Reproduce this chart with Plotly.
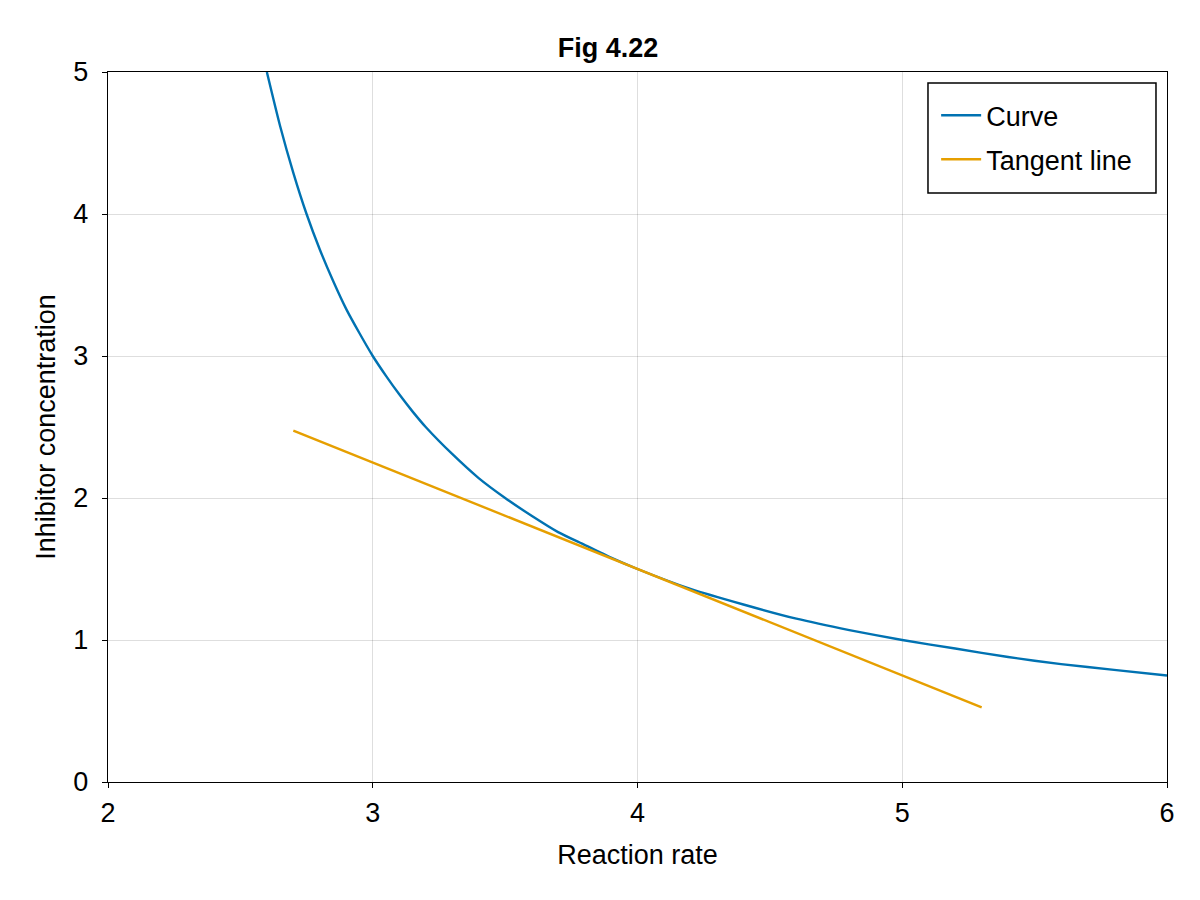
import plotly.graph_objects as go

# Curve values
curve_x = [2.6, 2.65, 2.7, 2.75, 2.8, 2.85, 2.9, 2.95, 3.0, 3.05, 3.1, 3.15, 3.2, 3.3, 3.4, 3.5,
           3.6, 3.7, 3.8, 3.9, 4.0, 4.2, 4.4, 4.6, 4.8, 5.0, 5.2, 5.4, 5.6, 5.8, 6.0]
curve_y = [5.0, 4.62, 4.29, 4.0, 3.75, 3.53, 3.33, 3.16, 3.0, 2.86, 2.73, 2.61, 2.5, 2.31, 2.14, 2.0,
           1.875, 1.76, 1.67, 1.58, 1.5, 1.36, 1.25, 1.15, 1.07, 1.0, 0.94, 0.88, 0.83, 0.79, 0.75]

# Tangent line endpoints
tangent_x = [2.7, 5.3]
tangent_y = [2.475, 0.525]

x_ticks = [2, 3, 4, 5, 6]
y_ticks = [0, 1, 2, 3, 4, 5]

FS = 27

fig = go.Figure()
fig.add_trace(go.Scatter(x=curve_x, y=curve_y, mode="lines", name="Curve", legendgroup="a",
                         line=dict(color="#0072B2", width=2.4, shape="spline", smoothing=0.6)))
fig.add_trace(go.Scatter(x=tangent_x, y=tangent_y, mode="lines", name="Tangent line", legendgroup="b",
                         line=dict(color="#E69F00", width=2.4)))

axis_common = dict(
    showline=True, linecolor="black", linewidth=1.4, mirror=True,
    ticks="outside", ticklen=5, tickwidth=1.4, tickcolor="black",
    showgrid=True, gridcolor="rgba(0,0,0,0.13)", gridwidth=1,
    zeroline=False, tickfont=dict(size=FS, color="black"),
)

# legend frame (plot-area fraction coordinates)
fig.add_shape(type="rect", xref="paper", yref="paper",
              x0=0.7743, x1=0.9896, y0=0.8296, y1=0.9845,
              line=dict(color="black", width=1.5), fillcolor="white", layer="above")

fig.update_layout(
    width=1200, height=900,
    paper_bgcolor="white", plot_bgcolor="white",
    font=dict(family="Liberation Sans, Arial, sans-serif", color="black", size=FS),
    title=dict(text="<b>Fig 4.22</b>", x=0.5, xanchor="center", y=0.956, yanchor="middle",
               font=dict(size=FS, color="black")),
    margin=dict(l=100, r=41, t=64, b=126),
    xaxis=dict(range=[2, 6], tickvals=x_ticks, ticklabelstandoff=1,
               title=dict(text="Reaction rate", font=dict(size=FS), standoff=18), **axis_common),
    yaxis=dict(range=[0, 5], tickvals=y_ticks, ticklabelstandoff=8,
               title=dict(text="Inhibitor concentration", font=dict(size=FS), standoff=9), **axis_common),
    legend=dict(x=0.782, y=0.973, xanchor="left", yanchor="top",
                bgcolor="rgba(0,0,0,0)", borderwidth=0,
                font=dict(size=FS), tracegroupgap=6, itemwidth=40),
    showlegend=True,
)

fig.write_html("out.html")
